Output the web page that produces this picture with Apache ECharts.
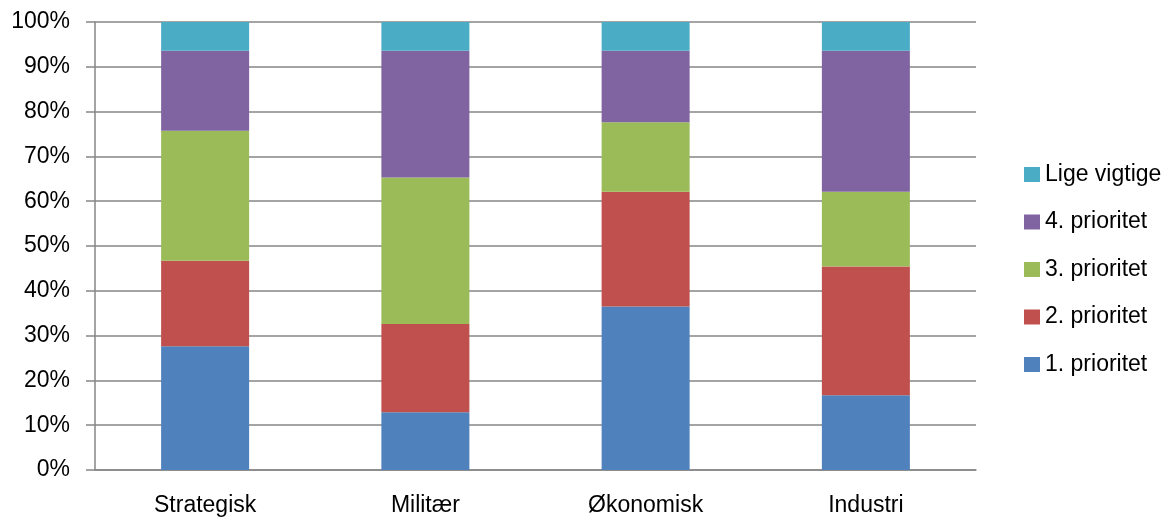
<!DOCTYPE html>
<html>
<head>
<meta charset="utf-8">
<script src="https://cdn.jsdelivr.net/npm/echarts@6/dist/echarts.min.js"></script>
<style>
  html, body { margin: 0; padding: 0; background: #fff; }
  #chart { width: 1162px; height: 517px; }
</style>
</head>
<body>
<div id="chart"></div>
<script>
// data (percent of each column)
var categories = ["Strategisk", "Militær", "Økonomisk", "Industri"];
var prio1 = [27.6, 12.9, 36.5, 16.7];
var prio2 = [19.1, 19.7, 25.6, 28.7];
var prio3 = [29.0, 32.7, 15.5, 16.7];
var prio4 = [17.9, 28.3, 16.0, 31.5];
var lige = [6.4, 6.4, 6.4, 6.4];

var seriesNames = ["1. prioritet", "2. prioritet", "3. prioritet", "4. prioritet", "Lige vigtige"];
var seriesData = [prio1, prio2, prio3, prio4, lige];
var colors = ["#4F81BD", "#C0504D", "#9BBB59", "#8064A2", "#4BACC6"];

var font = "'Liberation Sans', Arial, sans-serif";
var gridGray = "#868686";

var chart = echarts.init(document.getElementById("chart"));

var series = seriesNames.map(function (name, i) {
  return {
    name: name,
    type: "bar",
    stack: "total",
    barWidth: 88,
    data: seriesData[i],
    itemStyle: { color: colors[i] }
  };
});

chart.setOption({
  animation: false,
  color: colors,
  grid: { left: 95, right: 186, top: 22, bottom: 47 },
  legend: {
    orient: "vertical",
    left: 1019,
    top: 158,
    itemWidth: 16,
    itemHeight: 15,
    itemGap: 24.5,
    icon: "rect",
    data: seriesNames.slice().reverse(),
    textStyle: { fontFamily: font, fontSize: 23, color: "#000" }
  },
  xAxis: {
    type: "category",
    data: categories,
    axisLine: { lineStyle: { color: gridGray, width: 1.5 } },
    axisTick: { length: 8, lineStyle: { color: gridGray, width: 1.5 } },
    axisLabel: { margin: 24, fontFamily: font, fontSize: 23, color: "#000" }
  },
  yAxis: {
    type: "value",
    min: 0,
    max: 100,
    interval: 10,
    axisLine: { show: true, lineStyle: { color: gridGray, width: 1.5 } },
    axisTick: { show: true, length: 9, lineStyle: { color: gridGray, width: 1.5 } },
    splitLine: { lineStyle: { color: gridGray, width: 1.5 } },
    axisLabel: {
      margin: 25,
      formatter: "{value}%",
      fontFamily: font,
      fontSize: 23,
      color: "#000"
    }
  },
  series: series
});
</script>
</body>
</html>
